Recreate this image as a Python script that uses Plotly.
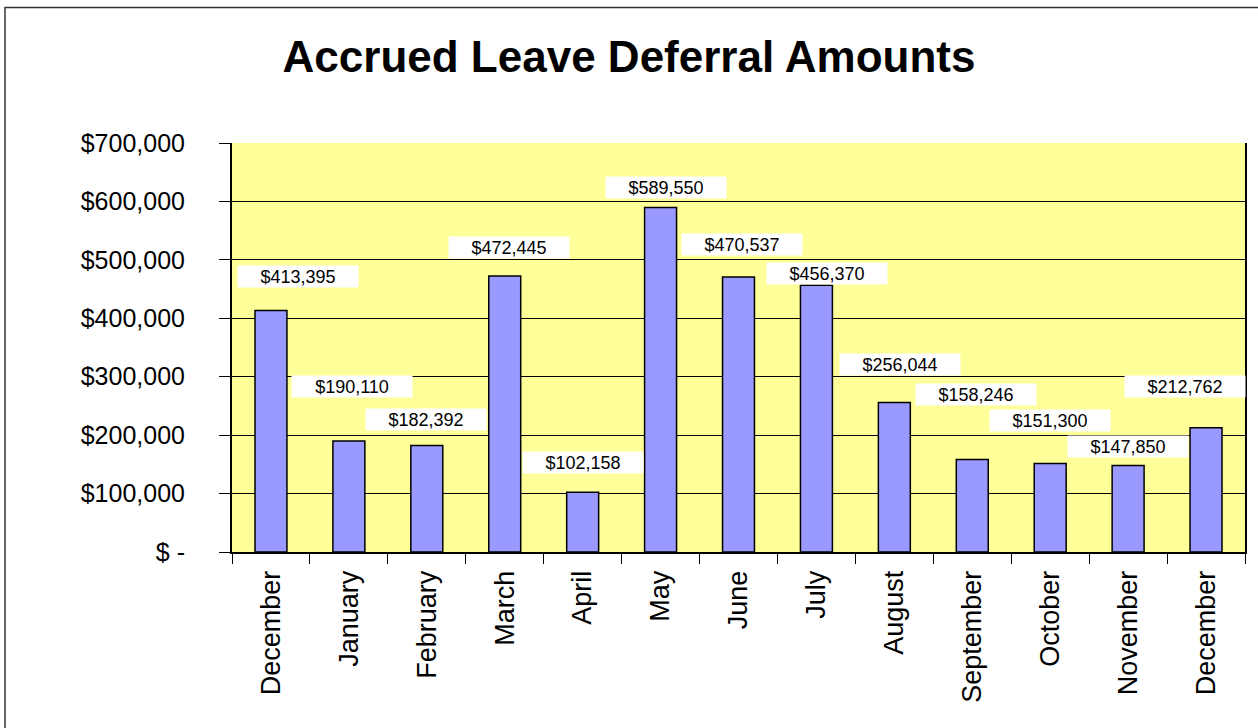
import plotly.graph_objects as go

months = ["December", "January", "February", "March", "April", "May", "June",
          "July", "August", "September", "October", "November", "December"]
amounts = [413395, 190110, 182392, 472445, 102158, 589550, 470537,
           456370, 256044, 158246, 151300, 147850, 212762]
y_ticks = [0, 100000, 200000, 300000, 400000, 500000, 600000, 700000]
y_tick_text = ["$ -", "$100,000", "$200,000", "$300,000", "$400,000",
               "$500,000", "$600,000", "$700,000"]

# label placement offsets (pixels) relative to bar top-centre
label_dx = [27, 3, -1, 4, 0, 5, 3, 11, 6, 4, 0, 0, -21]
label_dy = [34, 54, 26, 28, 30, 20, 33, 12, 38, 65, 43, 19, 41]

W, H = 1258, 728
L, R, T, B = 232, 13, 143, 176

x_pos = list(range(len(months)))

fig = go.Figure()
fig.add_trace(go.Bar(
    x=x_pos, y=amounts,
    marker=dict(color="#9999FF", line=dict(color="black", width=1.5)),
    width=0.41,
    hoverinfo="skip",
))

FONT = "Arial, Liberation Sans, sans-serif"

annotations = []
for i, v in enumerate(amounts):
    annotations.append(dict(
        x=x_pos[i], y=v, xref="x", yref="y",
        text=f"${v:,}", showarrow=False,
        xshift=label_dx[i], yshift=label_dy[i],
        yanchor="middle", xanchor="center",
        bgcolor="white", width=118, height=19, borderpad=1,
        font=dict(family=FONT, size=18, color="black"),
    ))

pw = W - L - R
ph = H - T - B
def px_x(p):
    return (p - L) / pw
def px_y(p):
    return (H - B - p) / ph

shapes = [dict(type="rect", xref="paper", yref="paper",
               x0=px_x(5), x1=px_x(1262), y0=px_y(7.5), y1=px_y(735),
               line=dict(color="#333333", width=1.5), fillcolor="rgba(0,0,0,0)",
               layer="above")]

fig.update_layout(
    width=W, height=H,
    margin=dict(l=L, r=R, t=T, b=B),
    paper_bgcolor="white",
    plot_bgcolor="#FFFF99",
    showlegend=False,
    title=dict(text="<b>Accrued Leave Deferral Amounts</b>",
               x=0.5, xref="container", xanchor="center",
               y=1 - 57 / H, yref="container", yanchor="middle",
               font=dict(family=FONT, size=44, color="black")),
    annotations=annotations,
    shapes=shapes,
    bargap=0.59,
)

fig.update_xaxes(
    range=[-0.5, 12.5],
    tickmode="array", tickvals=x_pos, ticktext=months,
    tickangle=-90, ticks="", ticklabelstandoff=6,
    tickfont=dict(family=FONT, size=27, color="black"),
    showline=True, linecolor="black", linewidth=2,
    showgrid=False, zeroline=False,
    minor=dict(tickmode="linear", tick0=-0.5, dtick=1, ticks="outside",
               ticklen=10, tickcolor="black", tickwidth=1, showgrid=False),
    fixedrange=True,
)
fig.update_yaxes(
    range=[0, 700000],
    tickmode="array", tickvals=y_ticks, ticktext=y_tick_text,
    ticks="outside", ticklen=11, tickcolor="black", tickwidth=1,
    ticklabelstandoff=29,
    tickfont=dict(family=FONT, size=25, color="black"),
    showline=True, linecolor="black", linewidth=2, mirror=True,
    showgrid=True, gridcolor="black", gridwidth=1,
    zeroline=False,
    fixedrange=True,
)

fig.write_html("out.html",
               config={"displayModeBar": False},
               post_script="document.body.style.margin='0';document.body.style.overflow='hidden';")
